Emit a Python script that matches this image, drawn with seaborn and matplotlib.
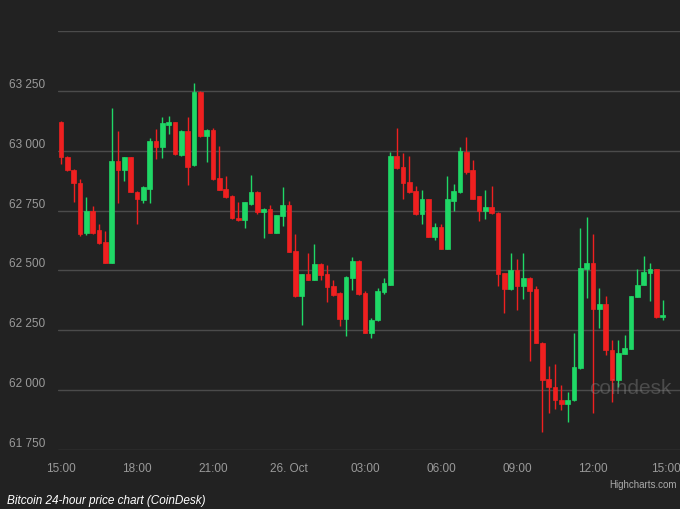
import numpy as np
import pandas as pd
import seaborn as sns
import matplotlib
matplotlib.use('Agg')
from matplotlib import pyplot as plt
from matplotlib.transforms import ScaledTranslation

# 15-minute candles, 15:00 (25 Oct) -> 15:00 (26 Oct)
opens = [63120, 62975, 62920, 62867, 62658, 62748, 62668, 62619, 62532, 62958,
         62920, 62972, 62828, 62795, 62839, 63042, 63014, 63109, 63119, 62982,
         63084, 62940, 63247, 63060, 63088, 62884, 62839, 62811, 62721, 62711,
         62777, 62828, 62744, 62758, 62658, 62728, 62772, 62581, 62392, 62483,
         62462, 62528, 62483, 62434, 62406, 62299, 62469, 62539, 62406, 62239,
         62292, 62409, 62441, 62976, 62930, 62870, 62832, 62735, 62797, 62641,
         62683, 62591, 62790, 62826, 62996, 62920, 62809, 62748, 62767, 62739,
         62488, 62423, 62501, 62437, 62469, 62423, 62197, 62046, 62015, 61960,
         61942, 61957, 62092, 62507, 62532, 62340, 62358, 62169, 62043, 62152,
         62172, 62390, 62441, 62490, 62504, 62304]
highs = [63125, 62978, 62925, 62881, 62805, 62769, 62693, 62665, 63177, 63084,
         62972, 62975, 62830, 62852, 63052, 63091, 63140, 63144, 63122, 63088,
         63140, 63284, 63250, 63092, 63095, 63021, 62893, 62815, 62784, 62786,
         62898, 62831, 62760, 62772, 62733, 62847, 62790, 62651, 62486, 62574,
         62609, 62530, 62521, 62459, 62408, 62476, 62557, 62542, 62413, 62303,
         62427, 62469, 62993, 63094, 62990, 62976, 62853, 62836, 62800, 62700,
         62693, 62895, 62860, 63014, 63057, 62962, 62812, 62836, 62853, 62742,
         62490, 62574, 62549, 62571, 62472, 62434, 62200, 62102, 62110, 62022,
         61994, 62239, 62679, 62722, 62651, 62428, 62395, 62211, 62211, 62232,
         62395, 62507, 62560, 62532, 62507, 62378]
lows = [62945, 62915, 62785, 62645, 62650, 62651, 62610, 62530, 62530, 62781,
        62874, 62826, 62693, 62780, 62781, 62965, 62968, 63070, 62984, 62978,
        62856, 62935, 63057, 62954, 62878, 62834, 62803, 62715, 62708, 62679,
        62772, 62735, 62637, 62655, 62655, 62686, 62575, 62390, 62270, 62460,
        62460, 62462, 62367, 62394, 62267, 62225, 62420, 62398, 62237, 62218,
        62290, 62400, 62438, 62924, 62800, 62824, 62733, 62693, 62639, 62627,
        62589, 62589, 62748, 62822, 62902, 62798, 62707, 62714, 62737, 62434,
        62323, 62420, 62334, 62381, 62120, 62195, 61827, 61904, 61921, 61918,
        61869, 61955, 62090, 62386, 61906, 62260, 62148, 61952, 62015, 62150,
        62170, 62388, 62439, 62371, 62302, 62295]
closes = [62975, 62920, 62867, 62651, 62748, 62658, 62613, 62532, 62958, 62920,
          62972, 62828, 62797, 62847, 63042, 63014, 63116, 63119, 62986, 63084,
          62934, 63245, 63060, 63088, 62881, 62836, 62805, 62717, 62711, 62784,
          62828, 62744, 62756, 62658, 62730, 62772, 62577, 62392, 62483, 62462,
          62528, 62479, 62430, 62396, 62299, 62474, 62539, 62400, 62239, 62295,
          62413, 62446, 62976, 62926, 62865, 62826, 62735, 62797, 62641, 62683,
          62591, 62797, 62832, 63000, 62912, 62800, 62748, 62767, 62739, 62483,
          62423, 62501, 62437, 62469, 62413, 62197, 62043, 62015, 61960, 61943,
          61957, 62097, 62511, 62532, 62340, 62358, 62166, 62043, 62155, 62176,
          62392, 62441, 62493, 62504, 62304, 62314]

x_tick_labels = ['15:00', '18:00', '21:00', '26. Oct', '03:00', '06:00', '09:00', '12:00', '15:00']
y_ticks = [61750, 62000, 62250, 62500, 62750, 63000, 63250, 63500]

bg = '#222222'
up_color = '#1fd866'
down_color = '#ef2020'

sns.set_theme(style='dark', rc={'axes.facecolor': bg, 'figure.facecolor': bg,
                                'savefig.facecolor': bg})
plt.rcParams['font.family'] = ['Liberation Sans', 'DejaVu Sans']

df = pd.DataFrame({'open': opens, 'high': highs, 'low': lows, 'close': closes})
df['hour'] = np.arange(len(df)) * 0.25
df['color'] = np.where(df['close'] >= df['open'], up_color, down_color)
df['body_low'] = df[['open', 'close']].min(axis=1)
df['body_h'] = (df['close'] - df['open']).abs()

fig = plt.figure(figsize=(6.8, 5.09), dpi=100)
ax = fig.add_axes([58 / 680, 59 / 509, 622 / 680, 419 / 509])

ax.vlines(df['hour'], df['low'], df['high'], colors=df['color'], linewidth=1, zorder=2)
ax.bar(df['hour'], df['body_h'], bottom=df['body_low'], width=0.18,
       color=df['color'], edgecolor=df['color'], linewidth=0.5, zorder=3)

ax.set_xlim(-3 / 25.33, 24 + 11 / 25.33)
ax.set_ylim(61750, 63500)

ax.set_xticks(np.arange(0, 25, 3))
ax.set_xticklabels(x_tick_labels)
ax.set_yticks(y_ticks)
ax.set_yticklabels([f'{v:,}'.replace(',', ' ') for v in y_ticks[:-1]] + [''])
ax.tick_params(axis='x', length=0, pad=9, labelsize=8.5, labelcolor='#9a9a9a')
ax.tick_params(axis='y', length=0, pad=9, labelsize=8.5, labelcolor='#9a9a9a')
for lab in ax.get_yticklabels():
    lab.set_verticalalignment('bottom')
last = ax.get_xticklabels()[-1]
last.set_transform(last.get_transform() + ScaledTranslation(-3 / 100, 0, fig.dpi_scale_trans))

ax.yaxis.grid(True, color='#4b4b4b', linewidth=1, zorder=0)
ax.xaxis.grid(False)
ax.set_axisbelow(True)
for s in ax.spines.values():
    s.set_visible(False)

# watermark + credits
fig.text(630 / 680, (509 - 389) / 509, 'coindesk', ha='center', va='center',
         fontsize=15, color='#8a8a8a', alpha=0.4, zorder=5)
fig.text(677 / 680, (509 - 485) / 509, 'Highcharts.com', ha='right', va='center',
         fontsize=7, color='#aaaaaa')
fig.text(7 / 680, 2 / 509, 'Bitcoin 24-hour price chart (CoinDesk)',
         ha='left', va='bottom', fontsize=8.5, style='italic', color='white')

fig.savefig('out.png', dpi=100)
plt.close()
